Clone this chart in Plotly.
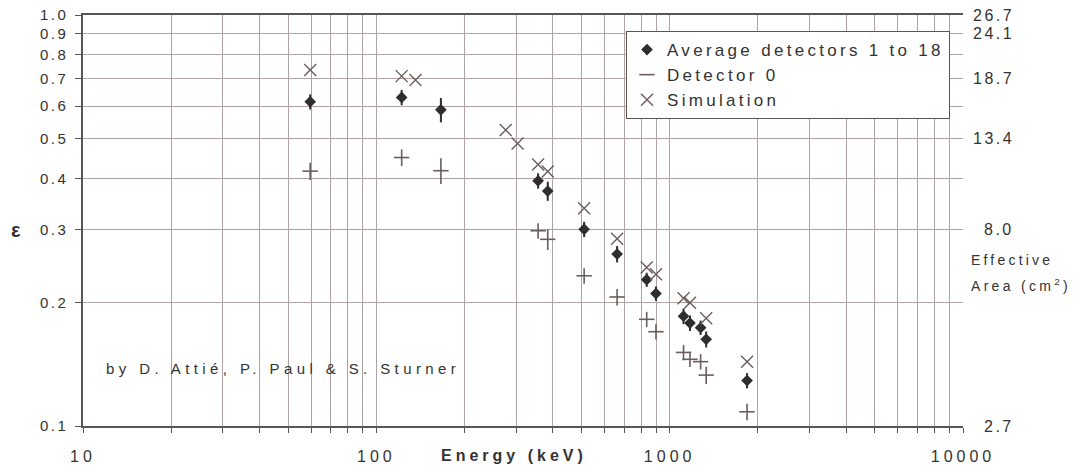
import math
import plotly.graph_objects as go

# Photopeak efficiency vs gamma-ray energy
energy_avg = [59.5, 122, 166, 356, 384, 511, 662, 835, 898, 1115, 1173, 1275, 1332, 1836]
eff_avg = [0.615, 0.630, 0.588, 0.395, 0.373, 0.301, 0.262, 0.227, 0.210, 0.185, 0.178, 0.1735, 0.1625, 0.129]
err_avg = [0.026, 0.027, 0.040, 0.017, 0.020, 0.013, 0.012, 0.009, 0.0085, 0.008, 0.0077, 0.007, 0.0073, 0.0055]

energy_det0 = [59.5, 122, 166, 356, 384, 511, 662, 835, 898, 1115, 1173, 1275, 1332, 1836]
eff_det0 = [0.417, 0.450, 0.418, 0.2986, 0.2846, 0.232, 0.206, 0.1818, 0.1696, 0.151, 0.1453, 0.1434, 0.133, 0.1083]
err_det0 = [0.020, 0.021, 0.030, 0.013, 0.0165, 0.010, 0.0095, 0.0078, 0.0073, 0.0065, 0.0062, 0.0062, 0.0064, 0.005]

energy_sim = [59.5, 122, 136, 276, 303, 356, 384, 511, 662, 835, 898, 1115, 1173, 1332, 1836]
eff_sim = [0.735, 0.710, 0.695, 0.525, 0.487, 0.433, 0.416, 0.3385, 0.2856, 0.243, 0.234, 0.2046, 0.1995, 0.1828, 0.1434]

# Axis ticks
x_ticks = [10, 100, 1000, 10000]
x_labels = ["10", "100", "1000", "10000"]
x_minor = [m * 10 ** d for d in (1, 2, 3) for m in range(2, 10)]
y_ticks = [0.1, 0.2, 0.3, 0.4, 0.5, 0.6, 0.7, 0.8, 0.9, 1.0]
y_labels = ["0.1", "0.2", "0.3", "0.4", "0.5", "0.6", "0.7", "0.8", "0.9", "1.0"]
area_ticks = [0.1, 0.3, 0.5, 0.7, 0.9, 1.0]
area_labels = ["2.7", "8.0", "13.4", "18.7", "24.1", "26.7"]

FONT = "Liberation Sans, Arial, sans-serif"
TXT = "#333333"
GRID = "#b0a2a2"
AXIS = "#5a5555"
DARK = "#2e2e2e"
BROWN = "#6b5d5d"


def spaced(text, px):
    return f'<span style="letter-spacing:{px}px">{text}</span>'


def px_x(p):
    return (p - 83) / 880


def px_y(p):
    return (426 - p) / 411


fig = go.Figure()

fig.add_trace(go.Scatter(
    x=energy_avg, y=eff_avg, mode="markers",
    name=spaced("Average detectors 1 to 18", 3.3),
    marker=dict(symbol="diamond", size=9, color=DARK),
    error_y=dict(type="data", array=err_avg, color=DARK, thickness=2, width=0),
))
fig.add_trace(go.Scatter(
    x=energy_det0, y=eff_det0, mode="markers",
    name=spaced("Detector 0", 3.3),
    marker=dict(symbol="line-ew", size=11, color=BROWN, line=dict(color=BROWN, width=1.6)),
    error_y=dict(type="data", array=err_det0, color=BROWN, thickness=1.6, width=0),
))
fig.add_trace(go.Scatter(
    x=energy_sim, y=eff_sim, mode="markers",
    name=spaced("Simulation", 3.3),
    marker=dict(symbol="x-thin", size=12, color=BROWN, line=dict(color=BROWN, width=1.4)),
))

# Right-hand scale: effective area in cm^2 (annotation y on a log axis is log10)
for v, lab in zip(area_ticks, area_labels):
    fig.add_annotation(x=px_x(1016), xref="paper", y=math.log10(v), yref="y", text=spaced(lab, 2.5),
                       showarrow=False, xanchor="right", yanchor="middle",
                       font=dict(family=FONT, size=16, color=TXT))

fig.add_annotation(x=px_x(969), xref="paper", y=px_y(260), yref="paper",
                   text=spaced("Effective", 3.2), showarrow=False, xanchor="left", yanchor="middle",
                   font=dict(family=FONT, size=14, color=TXT))
fig.add_annotation(x=px_x(969), xref="paper", y=px_y(285), yref="paper",
                   text=spaced("Area (cm<sup>2</sup>)", 3.3), showarrow=False, xanchor="left",
                   yanchor="middle", font=dict(family=FONT, size=14, color=TXT))

fig.add_annotation(x=px_x(16), xref="paper", y=math.log10(0.3), yref="y", text="<b>ε</b>",
                   showarrow=False, xanchor="center", yanchor="middle",
                   font=dict(family=FONT, size=20, color=TXT))

fig.add_annotation(x=px_x(514), xref="paper", y=px_y(455), yref="paper",
                   text="<b>" + spaced("Energy (keV)", 4) + "</b>", showarrow=False,
                   xanchor="center", yanchor="middle", font=dict(family=FONT, size=16, color=TXT))

fig.add_annotation(x=px_x(104), xref="paper", y=px_y(368), yref="paper",
                   text=spaced("by D. Attié, P. Paul & S. Sturner", 4.4), showarrow=False,
                   xanchor="left", yanchor="middle", font=dict(family=FONT, size=15, color=TXT))

fig.update_xaxes(
    type="log", range=[1, 4],
    tickvals=x_ticks, ticktext=[spaced(t, 4) for t in x_labels],
    tickangle=0,
    ticks="outside", ticklen=5, tickcolor=AXIS, tickwidth=1,
    ticklabelstandoff=10,
    showgrid=True, gridcolor=GRID, gridwidth=1,
    minor=dict(tickvals=x_minor, ticks="outside", ticklen=5, tickcolor=AXIS, tickwidth=1,
               showgrid=True, gridcolor=GRID, gridwidth=1),
    showline=True, linecolor=AXIS, linewidth=1.5, mirror=True,
    tickfont=dict(family=FONT, size=16, color=TXT),
    zeroline=False, automargin=False,
)
fig.update_yaxes(
    type="log", range=[-1, 0],
    tickvals=y_ticks, ticktext=[spaced(t, 2.5) for t in y_labels],
    ticks="outside", ticklen=6, tickcolor=AXIS, tickwidth=1,
    ticklabelstandoff=4,
    showgrid=True, gridcolor=GRID, gridwidth=1,
    showline=True, linecolor=AXIS, linewidth=1.5,
    tickfont=dict(family=FONT, size=15, color=TXT),
    zeroline=False, automargin=False,
)

fig.update_layout(
    width=1077, height=468,
    margin=dict(l=83, r=114, t=15, b=42),
    paper_bgcolor="white", plot_bgcolor="white",
    font=dict(family=FONT, color=TXT),
    showlegend=True,
    legend=dict(
        x=px_x(626), y=px_y(31), xanchor="left", yanchor="top",
        bgcolor="white", bordercolor=AXIS, borderwidth=1,
        font=dict(family=FONT, size=17, color=TXT),
        itemwidth=30, tracegroupgap=0,
    ),
)

fig.write_html("out.html")
